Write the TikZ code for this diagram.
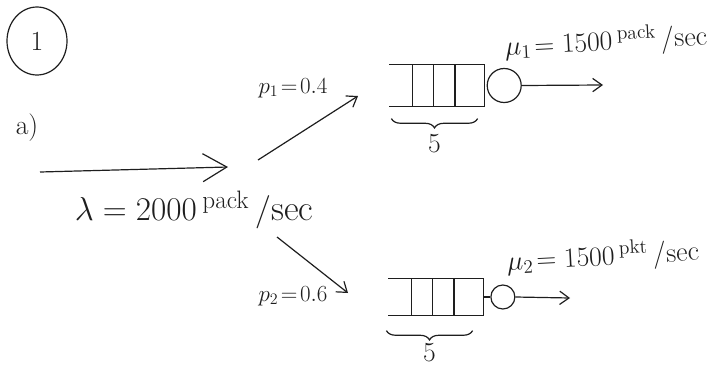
\documentclass[tikz,border=0pt]{standalone}
\usepackage{amsmath}
\usetikzlibrary{arrows.meta,positioning,shapes.geometric,calc,decorations.pathreplacing}
\definecolor{ink}{RGB}{30,30,30}

\begin{document}
\begin{tikzpicture}[x=0.75pt, y=-0.75pt, color=ink,
  >={Straight Barb[length=7pt,width=10pt]}, line width=0.9pt,
  queue/.style={minimum width=70.5pt, inner sep=0pt},
  server/.style={circle, draw, inner sep=0pt},
  brc/.style={decorate, decoration={brace, mirror, amplitude=7pt}},
  lbl/.style={font=\LARGE},
  rate/.style={font=\fontsize{21}{25}\selectfont, rotate=3},
  bigarrow/.style={-{Straight Barb[length=18pt,width=21pt]}}]
\useasboundingbox (0,0) rectangle (721,375);
\node[ellipse, draw, minimum width=45pt, minimum height=51pt, font=\huge] (task) at (37,41) {1};
\node[font=\huge] (part) at (27,128) {a)};
\coordinate (src) at (40,172);
\coordinate (split) at (228,167);
\draw[bigarrow] (src) -- (split);
\node[font=\fontsize{27}{32}\selectfont] (lam) at (194,210) {$\lambda = 2000\,{}^{\text{pack}}\,/\text{sec}$};
\node[queue, minimum height=30.75pt] (q1) at (437,85.5) {};
\node[server, minimum size=25.5pt, right=1.5pt of q1] (s1) {};
\node[queue, minimum height=27pt] (q2) at (436,297) {};
\node[server, minimum size=18pt, right=5pt of q2] (s2) {};
\foreach \q in {q1,q2}{
  \draw (\q.north west) -- (\q.north east) -- (\q.south east) -- (\q.south west);
  \foreach \f in {0.24,0.46,0.69}
    \draw ($(\q.north west)!\f!(\q.north east)$) -- ($(\q.south west)!\f!(\q.south east)$);
}
\coordinate (out1) at (603,85);
\coordinate (out2) at (570,298);
\draw (q2.east) -- (s2.west);
\draw[->] (s1.east) -- (out1);
\draw[->] (s2.east) -- (out2);
\coordinate (up0) at (258,160);
\coordinate (up1) at (358,96);
\coordinate (dn0) at (277,237);
\coordinate (dn1) at (348,293);
\draw[->] (up0) -- (up1);
\draw[->] (dn0) -- (dn1);
\node[lbl] (p1) at (293,88) {$p_1\!=\!0.4$};
\node[lbl] (p2) at (293,296) {$p_2\!=\!0.6$};
\node[rate] (mu1) at (606,42) {$\mu_1\!=1500\,{}^{\text{pack}}\,/\text{sec}$};
\node[rate] (mu2) at (603,257) {$\mu_2\!=1500\,{}^{\text{pkt}}\,/\text{sec}$};
\draw[brc] ($(q1.south west)+(2,12)$) -- ($(q1.south east)+(-7,12)$)
  node[midway, below=8pt, font=\huge] (n1) {$5$};
\draw[brc] ($(q2.south west)+(-2,15)$) -- ($(q2.south east)+(-11,15)$)
  node[midway, below=6pt, font=\huge] (n2) {$5$};
\end{tikzpicture}
\end{document}
